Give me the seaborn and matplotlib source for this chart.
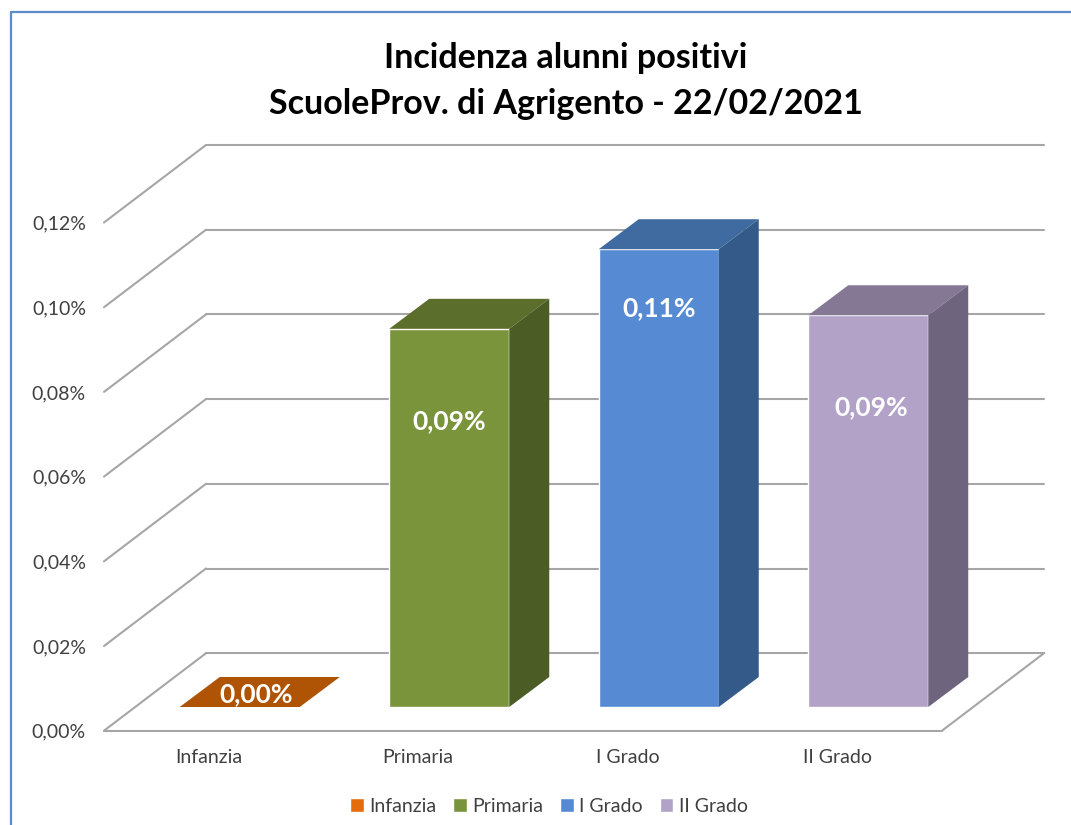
import matplotlib
matplotlib.use('Agg')
import matplotlib.pyplot as plt
import seaborn as sns
from matplotlib.lines import Line2D
from matplotlib.patches import Polygon
from matplotlib.ticker import FuncFormatter

categories = ['Infanzia', 'Primaria', 'I Grado', 'II Grado']
values = [0.0, 0.0893, 0.1081, 0.0925]
value_labels = ['0,00%', '0,09%', '0,11%', '0,09%']
y_ticks = [0.0, 0.02, 0.04, 0.06, 0.08, 0.10, 0.12]

front_colors = ['#E46C0A', '#7A943B', '#568BD3', '#B3A2C8']
top_colors = ['#AF5404', '#5B6E2C', '#3F6BA0', '#857895']
side_colors = ['#AF5404', '#4C5C25', '#335A88', '#6F647D']
label_y = [0.0031, 0.0675, 0.0942, 0.0708]
label_dx = [0.076, 0.0, 0.0, 0.014]

W, H = 1071, 825
sns.set_style('white')
plt.rcParams['font.family'] = ['Lato', 'DejaVu Sans']

fig = plt.figure(figsize=(W / 100, H / 100), dpi=100)

# plot box of the front plane, in pixels
left, right, bottom, top = 104, 942, 730.7, 222.5
ax = fig.add_axes([left / W, 1 - bottom / H, (right - left) / W, (bottom - top) / H])
ax.set_xlim(-0.5, 3.5)
ax.set_ylim(0, 0.12)
x_unit = (right - left) / 4
y_unit = (bottom - top) / 0.12

# depth of the box and of the bars, in pixels then data units
box_dx, box_dy = 102 / x_unit, 77.5 / y_unit
bar_dx, bar_dy = 40 / x_unit, 30 / y_unit

grid = '#A6A6A6'
for v in y_ticks:
    ax.plot([-0.5, -0.5 + box_dx], [v, v + box_dy], color=grid, lw=1.5, clip_on=False)
    ax.plot([-0.5 + box_dx, 3.5 + box_dx], [v + box_dy, v + box_dy], color=grid, lw=1.5, clip_on=False)
ax.plot([-0.5, 3.5], [0, 0], color=grid, lw=1.5, clip_on=False)
ax.plot([3.5, 3.5 + box_dx], [0, box_dy], color=grid, lw=1.5, clip_on=False)

ax.set_xticks(range(4))
ax.set_xticklabels(categories)
ax.set_yticks(y_ticks)
ax.yaxis.set_major_formatter(FuncFormatter(lambda v, p: f'{v:.2f}%'.replace('.', ',')))
ax.tick_params(axis='x', length=0, pad=13.5, labelsize=14, labelcolor='#404040')
ax.tick_params(axis='y', length=0, pad=13, labelsize=14, labelcolor='#404040')
sns.despine(ax=ax, left=True, bottom=True, top=True, right=True)

# bars sit on a second axes moved into the box
shift_x, shift_y = 31, 23.7
bar_ax = fig.add_axes([(left + shift_x) / W, 1 - bottom / H + shift_y / H,
                       (right - left) / W, (bottom - top) / H])
bar_ax.patch.set_alpha(0)
sns.barplot(x=categories, y=values, hue=categories, palette=front_colors, hue_order=categories,
            dodge=False, width=120 / x_unit, saturation=1, ax=bar_ax, legend=True, zorder=3)
bar_ax.set_xlim(-0.5, 3.5)
bar_ax.set_ylim(0, 0.12)

half = 60 / x_unit
for i, v in enumerate(values):
    bar_ax.add_patch(Polygon([(i - half, v), (i + half, v), (i + half + bar_dx, v + bar_dy),
                              (i - half + bar_dx, v + bar_dy)], color=top_colors[i], lw=0, zorder=4, clip_on=False))
    if v > 0:
        bar_ax.add_patch(Polygon([(i + half, 0), (i + half + bar_dx, bar_dy), (i + half + bar_dx, v + bar_dy),
                                  (i + half, v)], color=side_colors[i], lw=0, zorder=4, clip_on=False))
    bar_ax.text(i + label_dx[i], label_y[i], value_labels[i], color='white', fontsize=19, fontweight='bold',
                ha='center', va='center', zorder=5)

sns.move_legend(bar_ax, 'center', bbox_to_anchor=((549 - left - shift_x) / (right - left), (bottom - shift_y - 806) / (bottom - top)),
                ncol=4, frameon=False, title=None, fontsize=14, labelcolor='#404040',
                handlelength=0.7, handleheight=0.75, handletextpad=0.3, columnspacing=0.85)
bar_ax.set_xlabel('')
bar_ax.set_ylabel('')
bar_ax.set_axis_off()

fig.text(566 / W, 1 - 81 / H, 'Incidenza alunni positivi\nScuoleProv. di Agrigento - 22/02/2021',
         ha='center', va='center', fontsize=24.5, fontweight='bold', color='black', linespacing=1.5)

# outer chart frame, cut off on the right and at the bottom
fig.add_artist(Line2D([10.5 / W, 10.5 / W, 1], [0, 1 - 11.5 / H, 1 - 11.5 / H], color='#5B8BC9', lw=1.6))

fig.savefig('out.png', dpi=100)
